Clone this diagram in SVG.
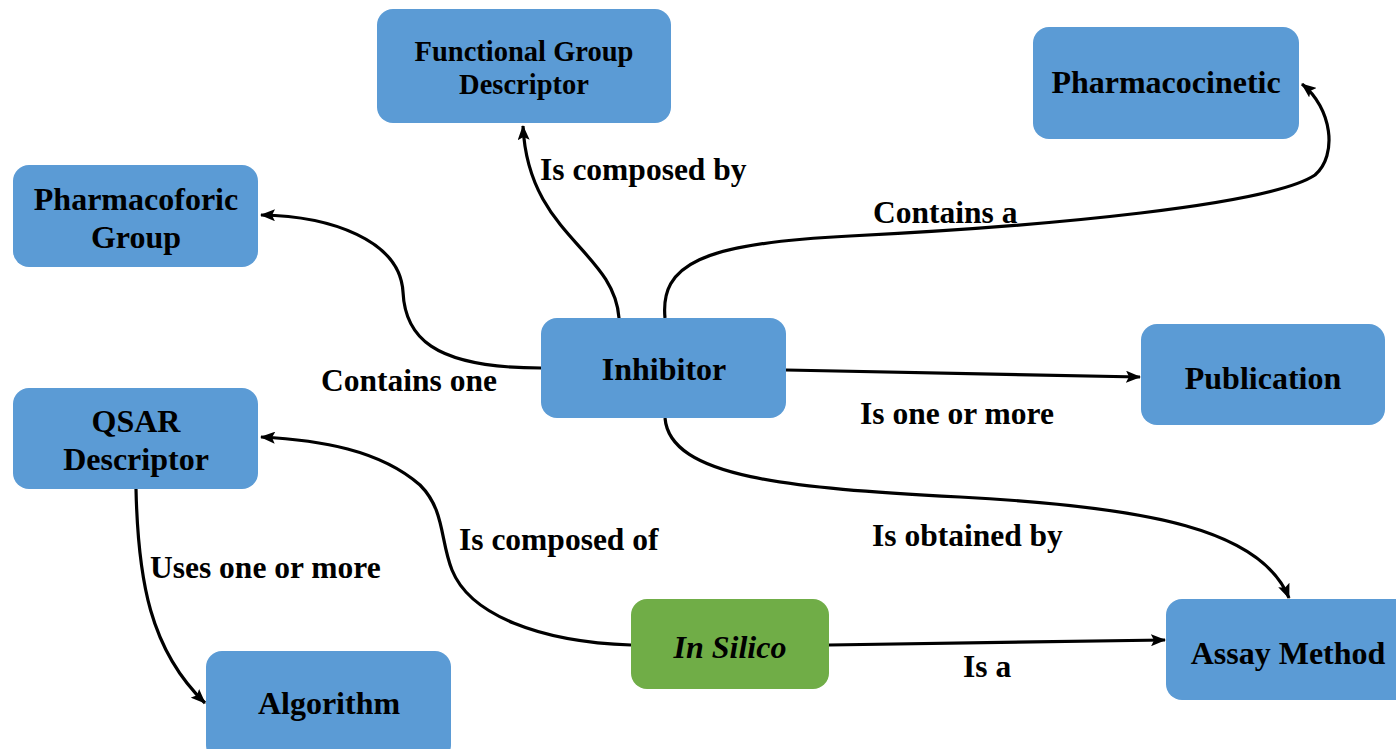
<svg xmlns="http://www.w3.org/2000/svg" width="1396" height="749" viewBox="0 0 1396 749">
  <style>
    .box { fill: #5B9BD5; }
    .box.green { fill: #70AD47; }
    .node-text { font-family: "Liberation Serif", "Times New Roman", serif; font-weight: bold; font-size: 32px; fill: #000; text-anchor: middle; }
    .node-text.small { font-size: 28.5px; }
    .italic { font-style: italic; }
    .label { font-family: "Liberation Serif", "Times New Roman", serif; font-weight: bold; font-size: 31.5px; fill: #000; }
    .edge { fill: none; stroke: #000; stroke-width: 3.2; marker-end: url(#arrow); }
  </style>
  <defs>
    <marker id="arrow" viewBox="0 0 15 12" refX="14" refY="6" markerWidth="15" markerHeight="12" markerUnits="userSpaceOnUse" orient="auto">
      <path d="M0,0 L15,6 L0,12 L3,6 Z" fill="#000"/>
    </marker>
  </defs>

  <rect width="1396" height="749" fill="#fff"/>

  <!-- connectors -->
  <g id="connectors">
    <path class="edge" d="M619,318 C614,250 528,235 523,126"/>
    <path class="edge" d="M541,368 C430,368 405,335 403,292 C400,240 330,216 261,215"/>
    <path class="edge" d="M665,318 C660,265 700,243 850,236 C1050,226 1270,205 1315,175 C1338,155 1332,108 1302,84"/>
    <path class="edge" d="M786,370 L1140,377"/>
    <path class="edge" d="M665,418 C670,478 790,488 960,497 C1150,507 1262,530 1289,598"/>
    <path class="edge" d="M631,645 C540,642 470,615 452,570 C440,540 445,510 420,485 C380,450 320,440 261,437"/>
    <path class="edge" d="M136,489 C138,580 150,650 205,703"/>
    <path class="edge" d="M829,645 L1165,640"/>
  </g>

  <!-- edge labels -->
  <g id="labels">
    <text class="label" x="540" y="180">Is composed by</text>
    <text class="label" x="873" y="223">Contains a</text>
    <text class="label" x="321" y="391">Contains one</text>
    <text class="label" x="860" y="424">Is one or more</text>
    <text class="label" x="872" y="546">Is obtained by</text>
    <text class="label" x="459" y="550">Is composed of</text>
    <text class="label" x="150" y="578">Uses one or more</text>
    <text class="label" x="963" y="677">Is a</text>
  </g>

  <!-- nodes -->
  <g id="functional-group-descriptor">
    <rect class="box" x="377" y="9" width="294" height="114" rx="16"/>
    <text class="node-text small" x="524" y="61">Functional Group</text>
    <text class="node-text small" x="524" y="94">Descriptor</text>
  </g>
  <g id="pharmacocinetic">
    <rect class="box" x="1033" y="27" width="266" height="112" rx="16"/>
    <text class="node-text" x="1166" y="93">Pharmacocinetic</text>
  </g>
  <g id="pharmacoforic-group">
    <rect class="box" x="13" y="165" width="245" height="102" rx="16"/>
    <text class="node-text" x="136" y="210">Pharmacoforic</text>
    <text class="node-text" x="136" y="248">Group</text>
  </g>
  <g id="inhibitor">
    <rect class="box" x="541" y="318" width="245" height="100" rx="16"/>
    <text class="node-text" x="664" y="380">Inhibitor</text>
  </g>
  <g id="publication">
    <rect class="box" x="1141" y="324" width="244" height="101" rx="16"/>
    <text class="node-text" x="1263" y="389">Publication</text>
  </g>
  <g id="qsar-descriptor">
    <rect class="box" x="13" y="388" width="245" height="101" rx="16"/>
    <text class="node-text" x="136" y="432">QSAR</text>
    <text class="node-text" x="136" y="470">Descriptor</text>
  </g>
  <g id="algorithm">
    <rect class="box" x="206" y="651" width="245" height="110" rx="16"/>
    <text class="node-text" x="329" y="714">Algorithm</text>
  </g>
  <g id="in-silico">
    <rect class="box green" x="631" y="599" width="198" height="90" rx="16"/>
    <text class="node-text italic" x="730" y="658">In Silico</text>
  </g>
  <g id="assay-method">
    <rect class="box" x="1166" y="599" width="250" height="101" rx="16"/>
    <text class="node-text" x="1288" y="664">Assay Method</text>
  </g>
</svg>
